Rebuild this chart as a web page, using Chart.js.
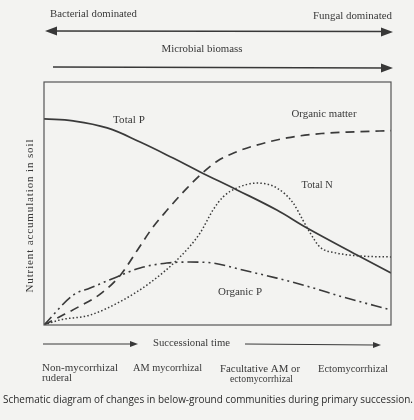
<!DOCTYPE html>
<html>
<head>
<meta charset="utf-8">
<script src="https://cdn.jsdelivr.net/npm/chart.js@4"></script>
<style>
html,body{margin:0;padding:0;background:#f3f3f1;}
#wrap{width:414px;height:420px;position:relative;}
</style>
</head>
<body>
<div id="wrap"><canvas id="c" width="414" height="420"></canvas></div>
<script>
// Successional time (0-100) and relative nutrient accumulation (0-100)
const totalPX = [0, 8.4, 18.2, 27.7, 37.2, 45.0, 55.6, 67.1, 75.8, 90.2, 100];
const totalPY = [84.8, 84.0, 81.1, 75.3, 68.7, 63.0, 55.6, 47.3, 39.9, 28.8, 21.4];

const organicMatterX = [0, 4, 10, 16, 22, 27, 31, 35, 41, 46, 50, 55, 60, 70, 80, 90, 100];
const organicMatterY = [0, 3, 7.5, 12.5, 20.5, 31, 39.5, 46.5, 56, 63, 67.5, 71, 73.5, 77, 78.8, 79.5, 80];

const totalNX = [0, 4.6, 13.3, 22.8, 30.5, 39.2, 45.0, 48.7, 51.6, 55.6, 61.4, 67.1, 71.8, 74.6, 76.7, 79.5, 84.4, 91.1, 100];
const totalNY = [0, 2.1, 4.1, 10.3, 17.3, 28.0, 37.9, 47.3, 52.7, 56.4, 58.4, 56.4, 50.2, 43.2, 37.9, 32.1, 29.6, 28.4, 28.0];

const organicPX = [0, 8.4, 13.3, 21.0, 27.7, 35.4, 42.1, 48.7, 57.3, 67.1, 76.7, 86.2, 100];
const organicPY = [0, 12.3, 15.2, 19.8, 23.5, 25.5, 25.9, 25.5, 22.6, 19.3, 15.6, 11.5, 6.2];

const seriesNames = ["Total P", "Organic matter", "Total N", "Organic P"];
// label anchor points in data units (x, y)
const labelX = [24.5, 80.7, 78.7, 56.5];
const labelY = [84.4, 86.8, 57.6, 13.6];

const stageLines = [["Non-mycorrhizal", "ruderal"], ["AM mycorrhizal"], ["Facultative AM or", "ectomycorrhizal"], ["Ectomycorrhizal"]];
const topLeftText = "Bacterial dominated";
const topRightText = "Fungal dominated";
const biomassText = "Microbial biomass";
const xAxisText = "Successional time";
const yAxisText = "Nutrient accumulation in soil";
const captionText = "Schematic diagram of changes in below-ground communities during primary succession.";

function pts(xs, ys){ return xs.map((x,i)=>({x:x, y:ys[i]})); }

const INK = '#383838';
const SERIF = '"Liberation Serif", "DejaVu Serif", serif';
const SANS = '"Open Sans", "Noto Sans", sans-serif';

// draw text so that it spans the given width: grow font up to maxSize, then letter-space
function fitText(ctx, text, x, y, width, family, maxSize, align){
  ctx.letterSpacing = '0px';
  ctx.font = '10px ' + family;
  const w10 = ctx.measureText(text).width;
  let size = Math.min(maxSize, 10 * width / w10);
  ctx.font = size.toFixed(2) + 'px ' + family;
  const w = ctx.measureText(text).width;
  const ls = (width - w) / Math.max(1, text.length - 1);
  ctx.letterSpacing = ls.toFixed(2) + 'px';
  let sx = x;
  if (align === 'center') sx = x - width/2;
  else if (align === 'right') sx = x - width;
  ctx.textAlign = 'left';
  ctx.fillText(text, sx, y);
  ctx.letterSpacing = '0px';
}

function arrowHead(ctx, x, y, dir, len, half){
  ctx.beginPath();
  ctx.moveTo(x, y);
  ctx.lineTo(x - dir*len, y - half);
  ctx.lineTo(x - dir*len, y + half);
  ctx.closePath();
  ctx.fill();
}

const decor = {
  id: 'decor',
  beforeDraw(chart){
    const ctx = chart.ctx;
    ctx.save();
    ctx.fillStyle = '#f3f3f1';
    ctx.fillRect(0,0,chart.width,chart.height);
    ctx.restore();
  },
  afterDraw(chart){
    const ctx = chart.ctx;
    const a = chart.chartArea;
    const xs = chart.scales.x, ys = chart.scales.y;
    ctx.save();
    // frame
    ctx.strokeStyle = '#555';
    ctx.lineWidth = 1.2;
    ctx.strokeRect(a.left, a.top, a.right - a.left, a.bottom - a.top);

    ctx.fillStyle = INK;
    ctx.strokeStyle = INK;
    ctx.textBaseline = 'middle';

    // top texts
    fitText(ctx, topLeftText, 50, 14, 87, SERIF, 11, 'left');
    fitText(ctx, topRightText, 392, 16, 79, SERIF, 11, 'right');
    // double arrow
    ctx.lineWidth = 1.6;
    ctx.beginPath(); ctx.moveTo(50, 31); ctx.lineTo(385, 31.5); ctx.stroke();
    arrowHead(ctx, 45, 31, -1, 12, 4.5);
    arrowHead(ctx, 393, 32, 1, 12, 4.5);
    // microbial biomass
    fitText(ctx, biomassText, 202, 49, 81, SERIF, 11, 'center');
    ctx.beginPath(); ctx.moveTo(53, 67); ctx.lineTo(385, 68); ctx.stroke();
    arrowHead(ctx, 393, 68, 1, 12, 4.5);

    // series labels
    const labelW = [32, 65, 31, 44];
    for (let i=0;i<seriesNames.length;i++){
      fitText(ctx, seriesNames[i], xs.getPixelForValue(labelX[i]), ys.getPixelForValue(labelY[i]), labelW[i], SERIF, 11, 'center');
    }

    // y axis title
    ctx.save();
    ctx.translate(30, 216);
    ctx.rotate(-Math.PI/2);
    fitText(ctx, yAxisText, 0, 0, 153, SERIF, 11, 'center');
    ctx.restore();

    // successional time arrows
    ctx.lineWidth = 1;
    ctx.beginPath(); ctx.moveTo(43, 344); ctx.lineTo(131, 344); ctx.stroke();
    arrowHead(ctx, 138, 344, 1, 8, 3);
    ctx.beginPath(); ctx.moveTo(245, 344); ctx.lineTo(374, 345); ctx.stroke();
    arrowHead(ctx, 381, 345, 1, 8, 3);
    fitText(ctx, xAxisText, 191.5, 343, 77, SERIF, 11, 'center');

    // stage labels
    const stageX = [[42, 42], [133], [220, 230], [318]];
    const stageW = [[76, 30], [69], [80, 63], [70]];
    const stageY = [368, 368, 369, 369];
    for (let i=0;i<stageLines.length;i++){
      const lines = stageLines[i];
      for (let j=0;j<lines.length;j++){
        fitText(ctx, lines[j], stageX[i][j], stageY[i] + j*10, stageW[i][j], SERIF, 11, 'left');
      }
    }

    // caption
    ctx.fillStyle = '#2a2a2a';
    fitText(ctx, captionText, 3, 400, 410, SANS, 10, 'left');
    ctx.restore();
  }
};

const common = { pointRadius: 0, fill: false, cubicInterpolationMode: 'monotone', borderColor: '#3a3a3a' };

new Chart(document.getElementById('c'), {
  type: 'line',
  data: {
    datasets: [
      Object.assign({}, common, { label: seriesNames[0], data: pts(totalPX, totalPY), borderWidth: 1.7, cubicInterpolationMode: 'default', tension: 0.4 }),
      Object.assign({}, common, { label: seriesNames[1], data: pts(organicMatterX, organicMatterY), borderWidth: 1.7, borderDash: [9, 6] }),
      Object.assign({}, common, { label: seriesNames[2], data: pts(totalNX, totalNY), borderWidth: 1.5, borderDash: [1.5, 2.2] }),
      Object.assign({}, common, { label: seriesNames[3], data: pts(organicPX, organicPY), borderWidth: 1.6, borderDash: [11, 4, 2, 4, 2, 4] })
    ]
  },
  options: {
    responsive: false,
    animation: false,
    devicePixelRatio: 1,
    layout: { padding: { left: 44, right: 23, top: 82, bottom: 95 } },
    plugins: { legend: { display: false }, tooltip: { enabled: false } },
    scales: {
      x: { type: 'linear', min: 0, max: 100, display: false },
      y: { type: 'linear', min: 0, max: 100, display: false }
    }
  },
  plugins: [decor]
});
</script>
</body>
</html>
